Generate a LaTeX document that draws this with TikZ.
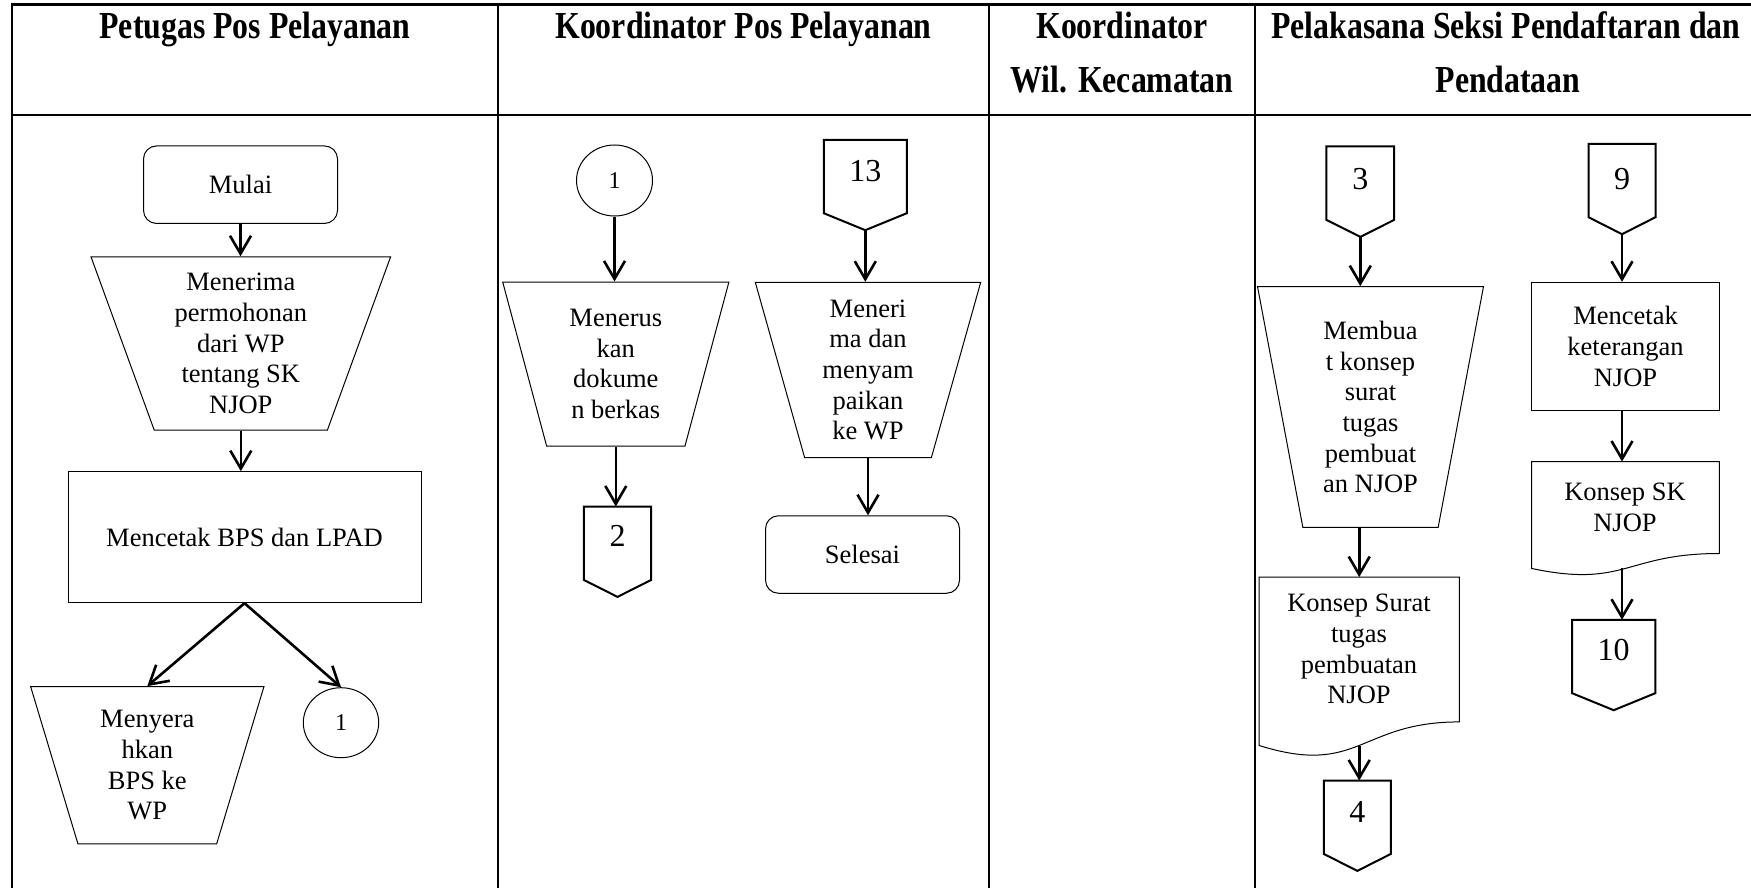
\documentclass[tikz,border=0pt]{standalone}
\usepackage{fontspec}
\setmainfont{Liberation Serif}
\usetikzlibrary{shapes.geometric,arrows.meta}

% outline of an off-page connector: box with a pointed bottom
\newcommand\offpageoutline[1]{%
  \draw[pageline] (#1.north west) -- (#1.north east) -- ([yshift=17pt]#1.south east)
    -- (#1.south) -- ([yshift=17pt]#1.south west) -- cycle;}
% outline of a document symbol with a wavy bottom edge (#2 = box height)
\newcommand\docoutline[2]{%
  \draw[outline] (#1.north west) -- (#1.north east) -- ([yshift={0.1404*#2}]#1.south east)
    .. controls ([yshift={0.1404*#2}]#1.south) and ([yshift={-0.1865*#2}]#1.south)
    .. (#1.south west) -- cycle;}

\tikzset{
  lane/.style={draw=black, line width=2.5pt},
  outline/.style={draw=black, line width=1pt},
  pageline/.style={draw=black, line width=2pt, line join=miter},
  flow/.style={draw=black, line width=2.6pt, -{Straight Barb[length=18pt,width=21pt]}},
  bodytext/.style={font=\fontsize{26.5}{30.7}\selectfont, align=center, text=black},
  lanehead/.style={font=\bfseries\fontsize{31.8}{36}\selectfont, anchor=base, inner sep=0pt},
  startstop/.style={outline, bodytext, rectangle, rounded corners=13pt,
    minimum width=194pt, minimum height=77.5pt},
  process/.style={outline, bodytext, rectangle, inner sep=2pt},
  manual/.style={outline, bodytext, trapezium, shape border rotate=180,
    trapezium stretches=true, inner sep=1pt},
  connector/.style={outline, ellipse, inner sep=0pt, font=\fontsize{24}{28}\selectfont},
  offpage/.style={rectangle, draw=none, inner sep=0pt, minimum height=90pt},
  docbox/.style={rectangle, draw=none, inner sep=0pt},
  pagenum/.style={inner sep=0pt, font=\fontsize{32}{36}\selectfont},
}

\begin{document}
\begin{tikzpicture}[x=1pt,y=-1pt]
\useasboundingbox (0,0) rectangle (1751,888);

% swimlane table
\draw[lane] (12,888) -- (12,4.5) -- (1751,4.5);
\draw[lane] (12,115) -- (1751,115);
\draw[lane] (498,4.5) -- (498,888);
\draw[lane] (989,4.5) -- (989,888);
\draw[lane] (1255,4.5) -- (1255,888);

% lane headings
\node[lanehead] (h1) at (255,39) {\scalebox{1}[1.2]{Petugas Pos Pelayanan}};
\node[lanehead] (h2) at (743.5,39) {\scalebox{1}[1.2]{Koordinator Pos Pelayanan}};
\node[lanehead] (h3a) at (1122,39) {\scalebox{1}[1.2]{Koordinator}};
\node[lanehead] (h3b) at (1122,92.6) {\scalebox{1}[1.2]{Wil. Kecamatan}};
\node[lanehead] (h4a) at (1506,39) {\scalebox{1}[1.2]{Pelakasana Seksi Pendaftaran dan}};
\node[lanehead] (h4b) at (1508,92.6) {\scalebox{1}[1.2]{Pendataan}};

% lane 1: Petugas Pos Pelayanan
\node[startstop] (mulai) at (240.5,184.7) {Mulai};
\node[manual, minimum width=300.3pt, minimum height=173.3pt, trapezium angle=71]
  (terima) at (240.8,343.5) {Menerima\\permohonan\\dari WP\\tentang SK\\NJOP};
\node[process, minimum width=353pt, minimum height=131pt]
  (cetak) at (244.5,537.2) {Mencetak BPS dan LPAD};
\node[manual, minimum width=233.3pt, minimum height=157.3pt, trapezium angle=73.65]
  (serah) at (147.3,765.3) {Menyera\\hkan\\BPS ke\\WP};
\node[connector, minimum width=75.4pt, minimum height=70pt] (ka) at (341,722.7) {1};

% lane 2: Koordinator Pos Pelayanan
\node[connector, minimum width=76pt, minimum height=71pt] (kb) at (614.5,180.5) {1};
\node[manual, minimum width=226.3pt, minimum height=164pt, trapezium angle=74.93]
  (terus) at (615.8,364) {Menerus\\kan\\dokume\\n berkas};
\node[offpage, minimum width=67pt] (pg2) at (617.5,551.7) {};
\offpageoutline{pg2}
\node[pagenum] (pg2t) at (617.5,536) {2};
\node[offpage, minimum width=82.7pt] (pg13) at (865.3,185) {};
\offpageoutline{pg13}
\node[pagenum] (pg13t) at (865.3,171) {13};
\node[manual, minimum width=226pt, minimum height=175.4pt, trapezium angle=75.72]
  (sampai) at (868,370) {Meneri\\ma dan\\menyam\\paikan\\ke WP};
\node[startstop] (selesai) at (862.5,554.5) {Selesai};

% lane 4: Pelaksana Seksi Pendaftaran dan Pendataan
\node[offpage, minimum width=67.3pt] (pg3) at (1360.3,191.7) {};
\offpageoutline{pg3}
\node[pagenum] (pg3t) at (1360.3,178.7) {3};
\node[manual, minimum width=226.4pt, minimum height=240.6pt, trapezium angle=79.44]
  (konsep) at (1370.5,407) {Membua\\t konsep\\surat\\tugas\\pembuat\\an NJOP};
\node[docbox, minimum width=199.7pt, minimum height=168pt] (doc1) at (1359.2,661.3) {};
\docoutline{doc1}{168}
\node[bodytext] (doc1t) at (1359,649) {Konsep Surat\\tugas\\pembuatan\\NJOP};
\node[offpage, minimum width=66.7pt] (pg4) at (1357.3,825.7) {};
\offpageoutline{pg4}
\node[pagenum] (pg4t) at (1357.3,812) {4};

\node[offpage, minimum width=66.6pt] (pg9) at (1622,189) {};
\offpageoutline{pg9}
\node[pagenum] (pg9t) at (1622,178.7) {9};
\node[process, minimum width=187.6pt, minimum height=128.4pt]
  (cetak2) at (1625.5,346.5) {Mencetak\\keterangan\\NJOP};
\node[docbox, minimum width=187.3pt, minimum height=106.5pt] (doc2) at (1625.4,515) {};
\docoutline{doc2}{106.5}
\node[bodytext] (doc2t) at (1625,507.5) {Konsep SK\\NJOP};
\node[offpage, minimum width=82.7pt] (pg10) at (1613.7,665) {};
\offpageoutline{pg10}
\node[pagenum] (pg10t) at (1613.7,650) {10};

% flow connectors
\draw[flow] (mulai.south) -- (mulai.south |- terima.north);
\draw[flow] (terima.south) -- (terima.south |- cetak.north);
\draw[flow] (cetak.south) -- (serah.north);
\draw[flow] (cetak.south) -- (ka.north);
\draw[flow] (kb.south) -- (kb.south |- terus.north);
\draw[flow] (terus.south) -- (terus.south |- pg2.north);
\draw[flow] (pg13.south) -- (pg13.south |- sampai.north);
\draw[flow] (sampai.south) -- (sampai.south |- selesai.north);
\draw[flow] (pg3.south) -- (pg3.south |- konsep.north);
\draw[flow] (doc1.north |- konsep.south) -- (doc1.north);
\draw[flow] (doc1.south) -- (doc1.south |- pg4.north);
\draw[flow] (pg9.south) -- (pg9.south |- cetak2.north);
\draw[flow] (pg9.south |- cetak2.south) -- (pg9.south |- doc2.north);
\draw[flow] (pg9.south |- doc2.south) -- (pg9.south |- pg10.north);
\end{tikzpicture}
\end{document}
